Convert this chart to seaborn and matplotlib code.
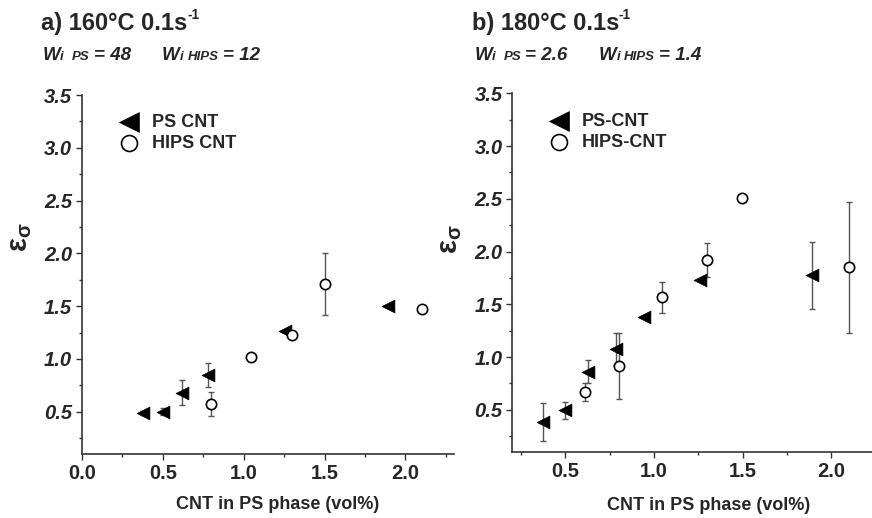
import matplotlib
matplotlib.use("Agg")
import matplotlib.pyplot as plt
import seaborn as sns
import numpy as np
import pandas as pd
from matplotlib.ticker import MultipleLocator

# ---------------- data ----------------
# panel a) 160°C
a_ps_x = [0.38, 0.50, 0.62, 0.78, 1.255, 1.89]
a_ps_y = [0.49, 0.50, 0.68, 0.845, 1.265, 1.50]
a_ps_err = [0.02, 0.035, 0.12, 0.115, 0.0, 0.0]

a_hips_x = [0.80, 1.045, 1.30, 1.50, 2.10]
a_hips_y = [0.575, 1.02, 1.225, 1.71, 1.47]
a_hips_err = [0.115, 0.0, 0.0, 0.295, 0.0]

# panel b) 180°C
b_ps_x = [0.375, 0.50, 0.625, 0.785, 0.946, 1.26, 1.89]
b_ps_y = [0.38, 0.495, 0.86, 1.075, 1.375, 1.735, 1.775]
b_ps_err = [0.18, 0.08, 0.11, 0.15, 0.0, 0.0, 0.32]

b_hips_x = [0.61, 0.80, 1.045, 1.30, 1.497, 2.10]
b_hips_y = [0.665, 0.915, 1.565, 1.92, 2.51, 1.85]
b_hips_err = [0.085, 0.31, 0.145, 0.16, 0.0, 0.62]

titles = ["a) 160°C 0.1s", "b) 180°C 0.1s"]
wi_ps = ["48", "2.6"]
wi_hips = ["12", "1.4"]
legend_a = ["PS CNT", "HIPS CNT"]
legend_b = ["PS-CNT", "HIPS-CNT"]
xlabel = "CNT in PS phase (vol%)"
ylabel = r"$\mathrm{\varepsilon}_{\mathrm{\sigma}}$"

# ---------------- style ----------------
sns.set_style("ticks")
plt.rcParams['font.family'] = ['Liberation Sans', 'DejaVu Sans']
plt.rcParams['mathtext.fontset'] = 'custom'
plt.rcParams['mathtext.rm'] = 'Liberation Sans:bold'
plt.rcParams['mathtext.bf'] = 'Liberation Sans:bold'
plt.rcParams['mathtext.it'] = 'Liberation Sans:bold:italic'

W, H = 872, 518
fig = plt.figure(figsize=(W / 100, H / 100), dpi=100)

def px_axes(l, t, r, b):
    return fig.add_axes([l / W, 1 - b / H, (r - l) / W, (b - t) / H])

axA = px_axes(82, 95, 454, 454)
axB = px_axes(512.3, 93.3, 872, 452)

ERR_C = '#555555'
AX_C = '#333333'

def draw_panel(ax, ps_x, ps_y, ps_e, hp_x, hp_y, hp_e, labels):
    for xs, ys, es in [(ps_x, ps_y, ps_e), (hp_x, hp_y, hp_e)]:
        xs, ys, es = np.array(xs), np.array(ys), np.array(es)
        m = es > 0
        ax.errorbar(xs[m], ys[m], yerr=es[m], fmt='none', ecolor=ERR_C,
                    elinewidth=1.0, capsize=2.5, capthick=1.0, zorder=1)
    df_ps = pd.DataFrame({"x": ps_x, "y": ps_y})
    df_hp = pd.DataFrame({"x": hp_x, "y": hp_y})
    sns.scatterplot(data=df_ps, x="x", y="y", ax=ax, marker='<', s=85,
                    color='black', edgecolor='black', linewidth=0.5,
                    label=labels[0], zorder=3)
    sns.scatterplot(data=df_hp, x="x", y="y", ax=ax, marker='o', s=55,
                    color='white', edgecolor='black', linewidth=1.2,
                    label=labels[1], zorder=3)
    ax.set_xlabel("")
    ax.set_ylabel("")
    ax.set_ylim(0.1, 3.5)
    ax.yaxis.set_major_locator(MultipleLocator(0.5))
    ax.yaxis.set_minor_locator(MultipleLocator(0.25))
    ax.xaxis.set_major_locator(MultipleLocator(0.5))
    ax.xaxis.set_minor_locator(MultipleLocator(0.25))
    for s in ['top', 'right']:
        ax.spines[s].set_visible(False)
    for s in ['left', 'bottom']:
        ax.spines[s].set_color(AX_C)
        ax.spines[s].set_linewidth(1.2)
    ax.tick_params(which='major', direction='out', length=4, width=1.0, color=AX_C, pad=3)
    ax.tick_params(which='minor', direction='out', length=2.5, width=1.0, color=AX_C)
    ax.tick_params(axis='x', labelsize=14.5)
    ax.tick_params(axis='y', labelsize=14.5)
    ax.yaxis.set_major_formatter(matplotlib.ticker.FormatStrFormatter('%.1f'))
    ax.xaxis.set_major_formatter(matplotlib.ticker.FormatStrFormatter('%.1f'))
    ax.set_facecolor('white')

draw_panel(axA, a_ps_x, a_ps_y, a_ps_err, a_hips_x, a_hips_y, a_hips_err, legend_a)
draw_panel(axB, b_ps_x, b_ps_y, b_ps_err, b_hips_x, b_hips_y, b_hips_err, legend_b)
axA.set_xlim(0.0, 2.3)
axB.set_xlim(0.2, 0.2 + (872 - 512.3) / 177.2)

for t in axA.get_xticklabels() + axB.get_xticklabels():
    t.set_fontweight('bold')
for t in axA.get_yticklabels() + axB.get_yticklabels():
    t.set_fontweight('bold')
    t.set_fontstyle('italic')

# legends
for ax, lx, ly in [(axA, (120 - 82) / 372, (454 - 114) / 359),
                   (axB, (550 - 512.3) / 359.7, (452 - 113) / 358.7)]:
    ax.legend(loc='upper left', bbox_to_anchor=(lx, ly), frameon=False,
              borderpad=0, borderaxespad=0, handlelength=1.0,
              handletextpad=0.75, labelspacing=0.2, markerscale=1.55,
              prop={'weight': 'bold', 'size': 13})

# axis labels
for ax, xl, yl in [(axA, (0.527, -0.142), (-0.168, 0.604)),
                   (axB, (0.545, -0.148), (-0.172, 0.594))]:
    ax.set_xlabel(xlabel, fontsize=13, fontweight='bold', va='center')
    ax.xaxis.set_label_coords(*xl)
    ax.set_ylabel(ylabel, fontsize=21, rotation=90, ha='center', va='center')
    ax.yaxis.set_label_coords(*yl)

# titles
def ftext(xp, yp, s, size, style='normal'):
    fig.text(xp / W, 1 - yp / H, s, fontsize=size, fontweight='bold',
             fontstyle=style, ha='left', va='baseline')

ftext(41, 30, titles[0], 17)
ftext(187, 19, "-1", 10)
ftext(472, 30, titles[1], 17)
ftext(618, 19, "-1", 10)

BIG, SMALL = 13.5, 9.5
# panel a subtitle
ftext(43, 60, "W", BIG, 'italic')
ftext(60, 60, "i", SMALL, 'italic')
ftext(72, 60, "PS", SMALL, 'italic')
ftext(94, 60, "= " + wi_ps[0], BIG, 'italic')
ftext(162, 60, "W", BIG, 'italic')
ftext(180, 60, "i", SMALL, 'italic')
ftext(188, 60, "HIPS", SMALL, 'italic')
ftext(223, 60, "= " + wi_hips[0], BIG, 'italic')
# panel b subtitle
ftext(475, 60, "W", BIG, 'italic')
ftext(492, 60, "i", SMALL, 'italic')
ftext(504, 60, "PS", SMALL, 'italic')
ftext(525, 60, "= " + wi_ps[1], BIG, 'italic')
ftext(599, 60, "W", BIG, 'italic')
ftext(617, 60, "i", SMALL, 'italic')
ftext(624, 60, "HIPS", SMALL, 'italic')
ftext(659, 60, "= " + wi_hips[1], BIG, 'italic')

fig.savefig("out.png", dpi=100, facecolor='white')
